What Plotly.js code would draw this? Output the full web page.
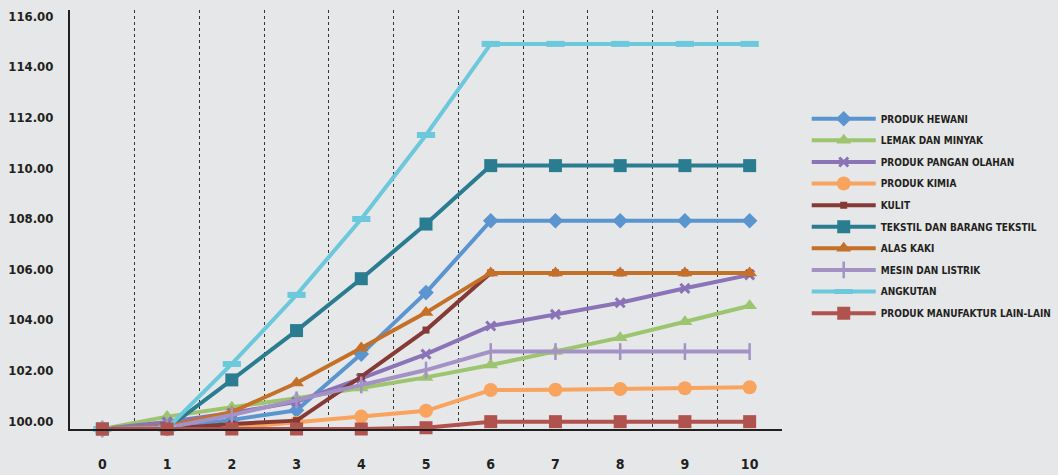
<!DOCTYPE html>
<html><head><meta charset="utf-8">
<script src="https://cdn.plot.ly/plotly-3.0.1.min.js"></script>
<style>html,body{margin:0;padding:0;background:#E6E7E8;}</style>
</head><body>
<div id="chart" style="width:1058px;height:475px;"></div>
<script>
const periods = [0,1,2,3,4,5,6,7,8,9,10];
const tickLabels = ["0","1","2","3","4","5","6","7","8","9","10"];
const seriesNames = ["PRODUK HEWANI","LEMAK DAN MINYAK","PRODUK PANGAN OLAHAN","PRODUK KIMIA","KULIT","TEKSTIL DAN BARANG TEKSTIL","ALAS KAKI","MESIN DAN LISTRIK","ANGKUTAN","PRODUK MANUFAKTUR LAIN-LAIN"];
const produkHewani   = [100,100.05,100.36,100.74,102.96,105.39,108.23,108.23,108.23,108.23,108.23];
const lemakMinyak    = [100,100.49,100.86,101.22,101.62,102.04,102.53,103.06,103.61,104.24,104.87];
const panganOlahan   = [100,100.28,100.63,101.07,102.00,102.96,104.07,104.53,104.99,105.56,106.09];
const produkKimia    = [100,100.00,100.04,100.25,100.49,100.72,101.54,101.55,101.58,101.61,101.65];
const kulit          = [100,100.00,100.20,100.33,102.07,103.91,106.17,106.17,106.17,106.17,106.17];
const tekstil        = [100,100.02,101.94,103.89,105.94,108.10,110.41,110.41,110.41,110.41,110.41];
const alasKaki       = [100,100.10,100.67,101.82,103.20,104.60,106.17,106.17,106.17,106.17,106.17];
const mesinListrik   = [100,100.05,100.55,101.15,101.74,102.33,103.06,103.06,103.06,103.06,103.06];
const angkutan       = [100,100.02,102.57,105.30,108.30,111.62,115.22,115.22,115.22,115.22,115.22];
const manufakturLain = [100,100.00,100.00,100.00,100.00,100.05,100.29,100.29,100.29,100.29,100.29];
const yTicks = [100,102,104,106,108,110,112,114,116];

const values = [produkHewani,lemakMinyak,panganOlahan,produkKimia,kulit,tekstil,alasKaki,mesinListrik,angkutan,manufakturLain];
const styles = [
  {color:'#5B95D0', symbol:'diamond', size:12},
  {color:'#9DC46F', symbol:'triangle-up', size:13},
  {color:'#8A73B7', symbol:'x-thin', size:9, lw:3},
  {color:'#F8A35E', symbol:'circle', size:14},
  {color:'#863A36', symbol:'square', size:7},
  {color:'#2A7D90', symbol:'square', size:13},
  {color:'#C47029', symbol:'triangle-up', size:13},
  {color:'#A492C6', symbol:'line-ns', size:12, lw:2.5},
  {color:'#6CC8DB', symbol:'line-ew', size:13, lw:6},
  {color:'#B0524E', symbol:'square', size:13}
];
const traces = seriesNames.map((n,i)=>{
  const s = styles[i];
  const m = {symbol:s.symbol, size:s.size, color:s.color};
  if (s.lw) m.line = {color:s.color, width:s.lw};
  return {x:periods, y:values[i], name:n, type:'scatter', mode:'lines+markers',
    line:{color:s.color, width:4}, marker:m, cliponaxis:false, legendgroup:'g'+i};
});
const fontFam = '"Liberation Sans Narrow","Arial Narrow","DejaVu Sans Condensed",sans-serif';
const layout = {
  width:1058, height:475,
  paper_bgcolor:'#E6E7E8', plot_bgcolor:'#E6E7E8',
  margin:{l:70, r:276, t:10, b:46},
  font:{family:fontFam, color:'#231F20'},
  showlegend:true,
  legend:{xref:'container', yref:'container', x:0.7625, y:0.7805, xanchor:'left', yanchor:'top', bgcolor:'rgba(0,0,0,0)',
    font:{family:fontFam, size:10, color:'#231F20', weight:'bold'}, tracegroupgap:2.6, itemwidth:64},
  xaxis:{range:[-0.5,10.5], tickmode:'array', tickvals:periods, ticktext:tickLabels,
    showgrid:false, zeroline:false, showline:true, linecolor:'#231F20', linewidth:2,
    ticks:'', ticklabelstandoff:21,
    tickfont:{family:fontFam, size:14, color:'#231F20', weight:'bold'},
    minor:{tick0:0.5, dtick:1, showgrid:true, gridcolor:'#333333', griddash:'dot', gridwidth:1, ticks:''}},
  yaxis:{range:[100,116.56], tickmode:'array', tickvals:yTicks, tickformat:'.2f',
    showgrid:false, zeroline:false, showline:true, linecolor:'#231F20', linewidth:2,
    ticks:'', ticklabelstandoff:12, ticklabelshift:-8,
    tickfont:{family:fontFam, size:13, color:'#231F20', weight:'bold'}}
};
Plotly.newPlot('chart', traces, layout, {displayModeBar:false, staticPlot:true});
</script>
</body></html>
